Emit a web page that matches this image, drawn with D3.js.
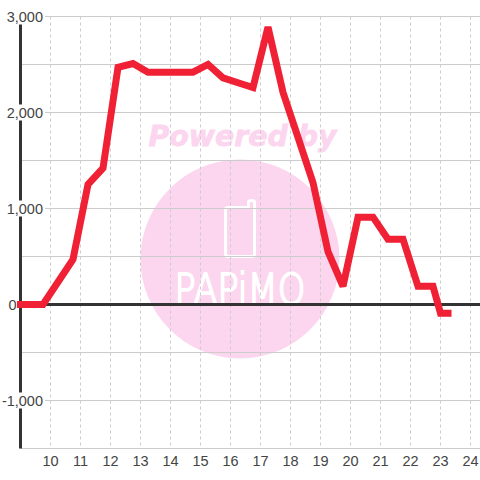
<!DOCTYPE html>
<meta charset="utf-8">
<style>
    html, body { margin: 0; padding: 0; background: #fff; }
    svg { display: block; }
    text { font-family: "Liberation Sans", sans-serif; }
    .tick-label { font-size: 14.5px; fill: #444; }
    .grid-h { stroke: #ccc; stroke-width: 1px; }
    .grid-v { stroke: #ccc; stroke-width: 1px; stroke-dasharray: 3 3; }
    .axis-line { stroke: #333; stroke-width: 3px; }
    .series { fill: none; stroke: #f02035; stroke-width: 7px; stroke-linejoin: miter; stroke-miterlimit: 2; stroke-linecap: square; }
    .mark-pink { fill: #fcd6ee; }
</style>
<body>
<div id="chart"></div>
<script src="https://d3js.org/d3.v7.min.js"></script>
<script>
    // the data
    var hours = [9, 9.75, 10.25, 10.75, 11.25, 11.75, 12.25, 12.75, 13.25, 13.75, 14.25, 14.75, 15.25, 15.75, 16.25, 16.75,
        17.25, 17.75, 18.25, 18.75, 19.25, 19.75, 20.25, 20.75, 21.25, 21.75, 22.25, 22.75, 23, 23.25];
    var values = [0, 0, 235, 470, 1250, 1420, 2470, 2510, 2420, 2420, 2420, 2420, 2500, 2360, 2310, 2260,
        2890, 2210, 1740, 1270, 550, 190, 910, 910, 680, 680, 190, 190, -90, -90];
    var xTicks = [10, 11, 12, 13, 14, 15, 16, 17, 18, 19, 20, 21, 22, 23, 24];
    var yGrid = [3000, 2500, 2000, 1500, 1000, 500, 0, -500, -1000, -1500];
    var yLabels = [3000, 2000, 1000, 0, -1000];

    var width = 480, height = 480;

    var x = d3.scaleLinear().domain([9, 24]).range([20.5, 470.5]);
    var y = d3.scaleLinear().domain([3000, -1500]).range([16.5, 448.5]);

    var svg = d3.select("#chart").append("svg")
        .attr("width", width)
        .attr("height", height);

    // watermark goes under the grid
    var mark = svg.append("g");
    mark.append("circle")
        .attr("class", "mark-pink")
        .attr("cx", 240).attr("cy", 259).attr("r", 99.5);
    mark.append("text")
        .attr("class", "mark-pink")
        .attr("x", 148.5).attr("y", 146)
        .attr("textLength", 188)
        .attr("lengthAdjust", "spacingAndGlyphs")
        .attr("stroke", "#fcd6ee")
        .attr("stroke-width", 0.8)
        .style("font-family", "DejaVu Sans")
        .style("font-weight", "bold")
        .style("font-style", "italic")
        .style("font-size", "29px")
        .text("Powered by");
    // phone
    mark.append("path")
        .attr("d", "M228 207.5H248.5V202Q248.5 200.5 251.5 200.5Q254.5 200.5 254.5 202V254Q254.5 256.5 252 256.5H228Q225.5 256.5 225.5 254V210Q225.5 207.5 228 207.5Z")
        .attr("fill", "none")
        .attr("stroke", "#fff")
        .attr("stroke-width", 3);
    mark.append("text")
        .attr("x", 174.5).attr("y", 304)
        .attr("textLength", 131)
        .attr("lengthAdjust", "spacingAndGlyphs")
        .attr("stroke", "#fff")
        .attr("stroke-width", 2)
        .style("font-family", "DejaVu Sans")
        .style("font-weight", "200")
        .style("font-size", "42px")
        .attr("fill", "#fff")
        .text("PAPiMO");

    // grid
    svg.append("g").selectAll("line")
        .data(yGrid)
        .enter().append("line")
        .attr("class", "grid-h")
        .attr("x1", x(9)).attr("x2", width)
        .attr("y1", function (d) { return y(d); })
        .attr("y2", function (d) { return y(d); });

    svg.append("g").selectAll("line")
        .data(xTicks)
        .enter().append("line")
        .attr("class", "grid-v")
        .attr("x1", function (d) { return x(d); })
        .attr("x2", function (d) { return x(d); })
        .attr("y1", y(3000)).attr("y2", y(-1500));

    // axes lines
    svg.append("line")
        .attr("class", "axis-line")
        .attr("x1", x(9)).attr("x2", x(9))
        .attr("y1", y(3000)).attr("y2", y(-1500));
    svg.append("line")
        .attr("class", "axis-line")
        .attr("x1", x(9)).attr("x2", width)
        .attr("y1", y(0)).attr("y2", y(0));

    // y labels sit on a white box, which cuts the axis line
    var fmt = d3.format(",");
    var yLabel = svg.append("g").selectAll("g")
        .data(yLabels)
        .enter().append("g")
        .attr("transform", function (d) { return "translate(0," + y(d) + ")"; });
    yLabel.append("rect")
        .attr("x", function (d) { return d === 0 ? 6 : 2; })
        .attr("y", -8)
        .attr("width", function (d) { return d === 0 ? 12 : 43; })
        .attr("height", 16)
        .attr("fill", "#fff");
    yLabel.append("text")
        .attr("class", "tick-label")
        .attr("x", function (d) { return d === 0 ? 16.5 : 43; })
        .attr("dy", "0.35em")
        .attr("text-anchor", "end")
        .text(function (d) { return fmt(d).replace("\u2212", "-"); });

    // x labels
    svg.append("g").selectAll("text")
        .data(xTicks)
        .enter().append("text")
        .attr("class", "tick-label")
        .attr("x", function (d) { return x(d); })
        .attr("y", 466)
        .attr("text-anchor", "middle")
        .text(function (d) { return d; });

    // series
    var line = d3.line()
        .x(function (d) { return x(d[0]); })
        .y(function (d) { return y(d[1]); });

    svg.append("path")
        .datum(d3.zip(hours, values))
        .attr("class", "series")
        .attr("d", line);
</script>
</body>
